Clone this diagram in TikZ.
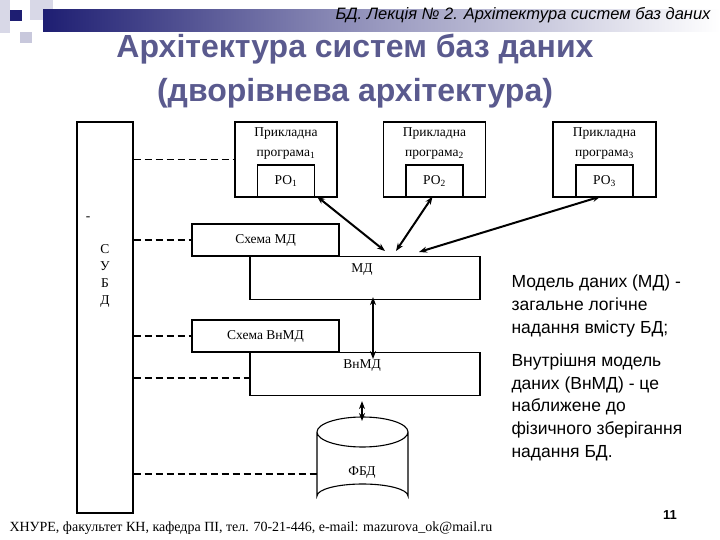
\documentclass[tikz,border=0pt]{standalone}
\usepackage{fontspec}
\setmainfont{Liberation Serif}
\setsansfont{Liberation Sans}
\usepackage{xcolor}
\usetikzlibrary{arrows.meta,positioning}
\definecolor{slnavy}{HTML}{1E1E72}
\definecolor{sllilac}{HTML}{C8C8DC}
\definecolor{sltitle}{HTML}{5A5A8E}

\tikzset{
  box/.style={draw, line width=1.1, inner sep=0pt, font=\fontsize{13.5}{16}\selectfont},
  boxtext/.style={font=\fontsize{13.5}{20}\selectfont, inner sep=0pt},
  link/.style={line width=1.4, dash pattern=on 7pt off 4pt},
  flow/.style={line width=2, {Stealth[length=8pt,width=6pt]}-{Stealth[length=8pt,width=6pt]}}
}

\begin{document}
\begin{tikzpicture}[x=1pt, y=-1pt, line cap=butt, line join=miter]
  \useasboundingbox (0,0) rectangle (720,540);
  % slide header
  \fill[sllilac!70] (0,0) rectangle (10,33);
  \fill[sllilac!70] (30,0) rectangle (53,20);
  \fill[sllilac] (20,32) rectangle (32,43);
  \shade[left color=slnavy, right color=white, middle color=slnavy!45] (43,10) rectangle (720,32);
  \fill[slnavy] (10,10) rectangle (22,21);
  \node[anchor=east, font=\sffamily\itshape\fontsize{16.5}{18}\selectfont] (head) at (714,15)
    {БД. Лекція № 2. Архітектура систем баз даних};
  \node[sltitle, font=\sffamily\bfseries\fontsize{32}{34}\selectfont] (title1) at (355,49)
    {Архітектура систем баз даних};
  \node[sltitle, font=\sffamily\bfseries\fontsize{32}{34}\selectfont] (title2) at (355,93)
    {(дворівнева архітектура)};

  % DBMS column
  \node[box, minimum width=56, minimum height=391] (subd) at (105,317.5) {};
  \node[boxtext, align=center] (subdtxt) at (105,276)
    {С\\[-3pt]У\\[-3pt]Б\\[-3pt]Д};
  \node[boxtext] (dash) at (88,219) {-};

  % application programs
  \node[box, minimum width=102, minimum height=75] (app1) at (286,159.5) {};
  \node[box, minimum width=102, minimum height=75] (app2) at (434.5,159.5) {};
  \node[box, minimum width=103, minimum height=75] (app3) at (604.5,159.5) {};
  \foreach \i in {1,2,3} {
    \node[box, minimum width=57, minimum height=32, anchor=south] (po\i) at (app\i.south) {РО\textsubscript{\i}};
    \node[boxtext, align=center] (lbl\i) at ([yshift=-22pt]app\i.north)
      {Прикладна\\програма\textsubscript{\i}};
  }

  % schemas and models
  \node[box, minimum width=147, minimum height=32] (shmd) at (265.5,240) {Схема МД};
  \node[box, minimum width=230, minimum height=43, anchor=north] (md) at (365,256) {};
  \node[boxtext] (mdtxt) at (362,270) {МД};
  \node[box, minimum width=147, minimum height=32] (shvn) at (265.5,336) {Схема ВнМД};
  \node[box, minimum width=230, minimum height=43, anchor=north] (vnmd) at (365,352) {};
  \node[boxtext] (vnmdtxt) at (362,366) {ВнМД};

  % physical database
  \draw[line width=1.1] (317,432) arc[start angle=180, end angle=-180, x radius=45.5, y radius=15]
    -- (317,496) arc[start angle=180, end angle=360, x radius=45.5, y radius=12] -- (408,432);
  \node[boxtext] (fbd) at (362,473) {ФБД};
  \coordinate (fbdtop) at (362,421);
  \coordinate (fbdleft) at (317,474);

  % dashed links to the DBMS
  \draw[link] (subd.east |- app1.west) -- (app1.west);
  \draw[link] (subd.east |- shmd.west) -- (shmd.west);
  \draw[link] (subd.east |- shvn.west) -- (shvn.west);
  \draw[link] (subd.east |- 0,378) -- (vnmd.west |- 0,378);
  \draw[link] (subd.east |- fbdleft) -- (fbdleft);

  % data flows
  \coordinate (mdin1) at (385,251);
  \coordinate (mdin2) at (396,251);
  \coordinate (mdin3) at (419,252);
  \draw[flow] ([xshift=2pt,yshift=1pt]po1.south east) -- (mdin1);
  \draw[flow] ([xshift=-31pt,yshift=1pt]po2.south east) -- (mdin2);
  \draw[flow] ([xshift=-4pt,yshift=1pt]po3.south) -- (mdin3);
  \draw[flow] ([xshift=8pt,yshift=3pt]md.south) -- ([xshift=8pt,yshift=-7pt]vnmd.north);
  \draw[flow] ([xshift=-3pt,yshift=-5pt]vnmd.south) -- (fbdtop);

  % notes
  \node[anchor=north west, align=left, font=\sffamily\fontsize{17.5}{23}\selectfont] (note1) at (508,271)
    {Модель даних (МД) -\\загальне логічне\\надання вмісту БД;};
  \node[anchor=north west, align=left, font=\sffamily\fontsize{17.5}{22.8}\selectfont] (note2) at (508,350)
    {Внутрішня модель\\даних (ВнМД) - це\\наближене до\\фізичного зберігання\\надання БД.};

  % footer
  \node[anchor=west, font=\fontsize{14}{16}\selectfont] (foot) at (6,528)
    {ХНУРЕ, факультет КН, кафедра ПІ, тел. 70-21-446, e-mail: mazurova\_ok@mail.ru};
  \node[font=\sffamily\bfseries\fontsize{13}{14}\selectfont] (page) at (670,515) {11};
\end{tikzpicture}
\end{document}
